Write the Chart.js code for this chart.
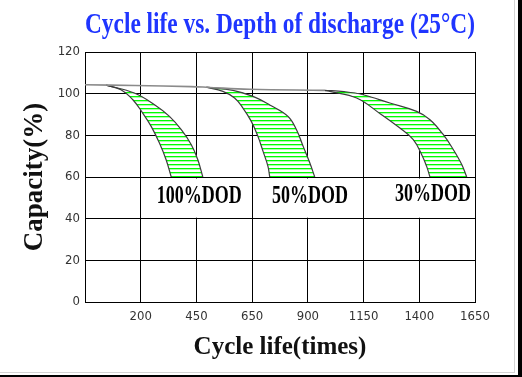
<!DOCTYPE html>
<html><head><meta charset="utf-8">
<script src="https://cdn.jsdelivr.net/npm/chart.js@4.4.1/dist/chart.umd.min.js"></script>
<style>html,body{margin:0;padding:0;background:#fff}canvas{display:block}</style>
</head><body>
<canvas id="c" width="522" height="377"></canvas>
<script>
// ---- text ----
const chartTitle = 'Cycle life vs. Depth of discharge (25°C)';
const xAxisTitle = 'Cycle life(times)';
const yAxisTitle = 'Capacity(%)';
const seriesLabels = ['100%DOD', '50%DOD', '30%DOD'];

// ---- axis ticks (x axis is drawn with equal spacing between these cycle counts) ----
const tickCycles = [0, 200, 450, 650, 900, 1150, 1400, 1650];
const xTickLabels = ['', '200', '450', '650', '900', '1150', '1400', '1650'];
const yMin = 0, yMax = 120, yStep = 20;

// ---- label anchors (cycles, capacity %) ----
const labelCycles = [460, 910, 1462];
const labelCapacity = [50.5, 50.5, 51.5];

// ---- common initial capacity line ----
const commonCycles = [0, 180, 425, 486, 640, 975];
const commonCapacity = [104.3, 103.9, 103.4, 103.1, 102.1, 101.6];

// ---- 100% DOD band ----
const dod100OuterCycles = [76, 177, 262, 329, 382, 427, 455, 473];
const dod100OuterCapacity = [104.1, 100.3, 94.7, 89.1, 82.7, 75.5, 68.3, 60];
const dod100InnerCycles = [76, 129, 171, 209, 247, 284, 314, 337];
const dod100InnerCapacity = [104.1, 101.9, 97.2, 90.7, 84.3, 76.3, 68.3, 60];

// ---- 50% DOD band ----
const dod50OuterCycles = [486, 581, 654, 729, 811, 849, 879, 909, 931];
const dod50OuterCapacity = [103.1, 101.6, 98.7, 94.6, 89.1, 82.7, 74.7, 66.7, 60];
const dod50InnerCycles = [486, 545, 587, 617, 647, 676, 699, 721, 729];
const dod50InnerCapacity = [103.1, 101.1, 97.9, 93.1, 86.7, 79.5, 72.3, 65.1, 60];

// ---- 30% DOD band ----
const dod30OuterCycles = [975, 1062, 1148, 1268, 1388, 1448, 1508, 1553, 1591, 1613];
const dod30OuterCapacity = [101.6, 101.0, 99.5, 95.5, 91.5, 87.5, 80.3, 73.1, 65.9, 60];
const dod30InnerCycles = [975, 999, 1119, 1223, 1313, 1373, 1411, 1433, 1448];
const dod30InnerCapacity = [101.6, 101.1, 97.9, 90.5, 83.5, 77.9, 70.7, 65.1, 60];

// map cycle count onto the equally spaced tick positions of the x axis
function toAxis(c) {
  for (let k = 0; k < tickCycles.length - 1; k++) {
    if (c <= tickCycles[k + 1] || k === tickCycles.length - 2) {
      return k + (c - tickCycles[k]) / (tickCycles[k + 1] - tickCycles[k]);
    }
  }
  return 0;
}
function pts(cycles, caps) { return cycles.map((c, i) => ({ x: toAxis(c), y: caps[i] })); }
function shape(o, inn) {
  const a = o.map(p => ({...p}));
  a.push({...o[o.length - 1]});
  a.push({...inn[inn.length - 1]});
  inn.slice().reverse().forEach(p => a.push({...p}));
  return a;
}

const canvas = document.getElementById('c');
const ctx = canvas.getContext('2d');
const pc = document.createElement('canvas');
pc.width = 4; pc.height = 4;
const pg = pc.getContext('2d');
pg.fillStyle = '#ffffff'; pg.fillRect(0, 0, 4, 4);
pg.fillStyle = '#00ff00'; pg.fillRect(0, 0, 4, 1);
pg.fillStyle = '#aaffaa'; pg.fillRect(0, 1, 4, 1);
const stripe = ctx.createPattern(pc, 'repeat');

const bands = [
  [pts(dod100OuterCycles, dod100OuterCapacity), pts(dod100InnerCycles, dod100InnerCapacity)],
  [pts(dod50OuterCycles, dod50OuterCapacity), pts(dod50InnerCycles, dod50InnerCapacity)],
  [pts(dod30OuterCycles, dod30OuterCapacity), pts(dod30InnerCycles, dod30InnerCapacity)]
];

const TENSION = 0.4;
const datasets = [];
datasets.push({
  label: 'initial', data: pts(commonCycles, commonCapacity),
  borderColor: '#8a8a8a', borderWidth: 1.6, fill: false, pointRadius: 0, tension: TENSION, order: 1
});
bands.forEach((b, i) => {
  datasets.push({ label: seriesLabels[i] + ' area', data: shape(b[0], b[1]), backgroundColor: stripe,
    borderWidth: 0, borderColor: 'rgba(0,0,0,0)', fill: 'shape', pointRadius: 0, tension: TENSION, order: 2 });
  datasets.push({ label: seriesLabels[i] + ' upper', data: b[0], borderColor: '#3c3c3c', borderWidth: 1.2,
    fill: false, pointRadius: 0, tension: TENSION, order: 1 });
  datasets.push({ label: seriesLabels[i] + ' lower', data: b[1], borderColor: '#3c3c3c', borderWidth: 1.2,
    fill: false, pointRadius: 0, tension: TENSION, order: 1 });
});

const tickFont = { family: "'Liberation Sans Narrow','DejaVu Sans Condensed',sans-serif", size: 13 };
const serif = "'Liberation Serif','Times New Roman',serif";

const bgPlugin = {
  id: 'bg',
  beforeDraw(chart) {
    const c = chart.ctx;
    c.save(); c.fillStyle = '#fff'; c.fillRect(0, 0, chart.width, chart.height); c.restore();
  }
};
const labelPlugin = {
  id: 'dodLabels',
  afterDatasetsDraw(chart) {
    const c = chart.ctx, xs = chart.scales.x, ys = chart.scales.y;
    const yTop = ys.getPixelForValue(60), yBot = ys.getPixelForValue(40);
    c.save();
    c.fillStyle = '#fff';
    [2, 4, 6].forEach(u => {
      const px = xs.getPixelForValue(u);
      c.fillRect(px - 2, yTop + 1.5, 4, yBot - yTop - 2.5);
    });
    c.fillStyle = '#000';
    c.font = 'bold 25px ' + serif;
    c.textAlign = 'center';
    c.textBaseline = 'middle';
    seriesLabels.forEach((t, i) => {
      c.save();
      c.translate(xs.getPixelForValue(toAxis(labelCycles[i])), ys.getPixelForValue(labelCapacity[i]));
      c.scale(0.72, 1);
      c.fillText(t, 0, 0);
      c.restore();
    });
    c.restore();
  }
};
const framePlugin = {
  id: 'frame',
  afterDraw(chart) {
    const c = chart.ctx;
    c.save();
    c.fillStyle = '#d4d4d4';
    c.fillRect(514, 0, 1, 373);
    c.fillRect(0, 372, 515, 1);
    c.fillStyle = '#000';
    c.fillRect(518, 0, 4, 377);
    c.fillRect(0, 375, 522, 2);
    c.restore();
  }
};

new Chart(ctx, {
  type: 'line',
  data: { datasets },
  options: {
    responsive: false,
    animation: false,
    devicePixelRatio: 1,
    layout: { padding: { top: 0, right: 47, bottom: 0, left: 0 } },
    plugins: {
      legend: { display: false },
      tooltip: { enabled: false },
      title: {
        display: true, text: chartTitle, color: '#1f35ff', fullSize: false,
        font: { family: serif, size: 30, weight: 'bold', lineHeight: '30px' },
        padding: { top: 10, bottom: 12 }
      }
    },
    scales: {
      x: {
        type: 'linear', min: 0, max: 7, position: 'bottom',
        grid: { color: '#000', lineWidth: 1, drawTicks: false },
        border: { color: '#000', width: 1 },
        ticks: { stepSize: 1, autoSkip: false, maxRotation: 0, padding: 7, color: '#333', font: tickFont,
          callback: v => (xTickLabels[v] !== undefined ? xTickLabels[v] : '') },
        title: { display: true, text: xAxisTitle, color: '#111',
          font: { family: serif, size: 25, weight: 'bold', lineHeight: 1.2 }, padding: { top: 0, bottom: 14 } },
        afterFit: s => { s.height = 75; }
      },
      y: {
        min: yMin, max: yMax,
        grid: { color: '#000', lineWidth: 1, drawTicks: false },
        border: { color: '#000', width: 1 },
        ticks: { stepSize: yStep, padding: 5, color: '#333', font: tickFont },
        title: { display: true, text: yAxisTitle, color: '#111',
          font: { family: serif, size: 27, weight: 'bold', lineHeight: 1.2 }, padding: { top: 19, bottom: 0 } },
        afterFit: s => { s.width = 85; }
      }
    }
  },
  plugins: [bgPlugin, labelPlugin, framePlugin]
});
</script>
</body></html>
